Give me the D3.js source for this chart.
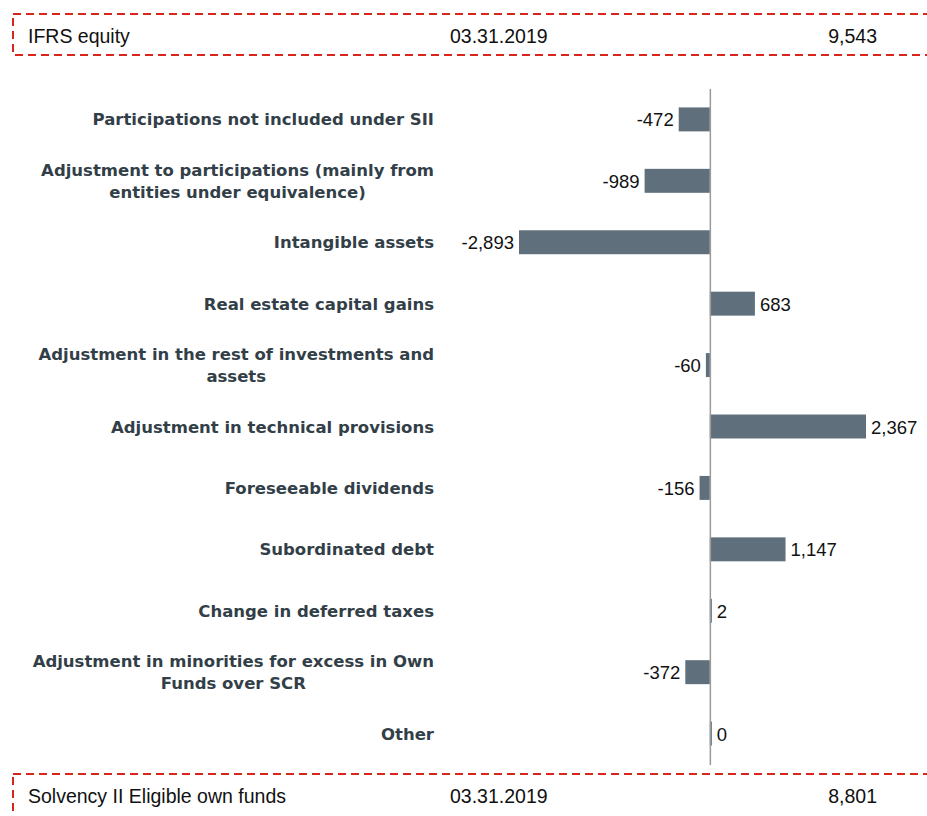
<!DOCTYPE html>
<html>
<head>
<meta charset="utf-8">
<script src="https://cdn.jsdelivr.net/npm/d3@7"></script>
<style>
  body { margin: 0; background: #fff; }
  svg { display: block; }
</style>
</head>
<body>
<div id="chart"></div>
<script>
// categories (each entry is the lines of one label)
var categories = [
  ["Participations not included under SII"],
  ["Adjustment to participations (mainly from", "entities under equivalence)"],
  ["Intangible assets"],
  ["Real estate capital gains"],
  ["Adjustment in the rest of investments and", "assets"],
  ["Adjustment in technical provisions"],
  ["Foreseeable dividends"],
  ["Subordinated debt"],
  ["Change in deferred taxes"],
  ["Adjustment in minorities for excess in Own", "Funds over SCR"],
  ["Other"]
];
var values = [-472, -989, -2893, 683, -60, 2367, -156, 1147, 2, -372, 0];

// header / footer rows
var startRow = ["IFRS equity", "03.31.2019", 9543];
var endRow = ["Solvency II Eligible own funds", "03.31.2019", 8801];

var width = 927, height = 816;
var fmt = d3.formatLocale({decimal: ".", thousands: ",", grouping: [3], currency: ["", ""], minus: "-"}).format(",");

var svg = d3.select("#chart").append("svg")
    .attr("width", width)
    .attr("height", height);

// scales
var x = d3.scaleLinear().domain([-2893, 2367]).range([519, 866]);
var y = d3.scaleBand().domain(d3.range(categories.length))
    .range([89, 764]).paddingInner(0.61).paddingOuter(0.3);

// dashed boxes
function drawBox(top, h, row){
  var g = svg.append("g");
  g.append("rect")
    .attr("x", 13).attr("y", top)
    .attr("width", 940).attr("height", h)
    .attr("fill", "none")
    .attr("stroke", "#d9261c")
    .attr("stroke-width", 2)
    .attr("stroke-dasharray", "8,5");
  var ty = top + 29;
  var t = g.append("g").attr("font-family", "'Liberation Sans', sans-serif")
    .attr("font-size", 19.5).attr("fill", "#111");
  t.append("text").attr("x", 28).attr("y", ty).text(row[0]);
  t.append("text").attr("x", 450).attr("y", ty).text(row[1]);
  t.append("text").attr("x", 877).attr("y", ty).attr("text-anchor", "end").text(fmt(row[2]));
}
drawBox(14, 41, startRow);
drawBox(774, 60, endRow);

// bars
svg.append("g").selectAll("rect")
  .data(values)
  .enter().append("rect")
  .attr("x", function(d){ return x(Math.min(0, d)); })
  .attr("y", function(d, i){ return y(i); })
  .attr("width", function(d){ return Math.max(2, Math.abs(x(d) - x(0))); })
  .attr("height", y.bandwidth())
  .attr("fill", "#5f6f7c");

// zero axis
svg.append("line")
  .attr("x1", x(0) + 0.5).attr("x2", x(0) + 0.5)
  .attr("y1", 89).attr("y2", 765)
  .attr("stroke", "#9a9a9a").attr("stroke-width", 1.5);

// value labels
svg.append("g").selectAll("text")
  .data(values)
  .enter().append("text")
  .attr("x", function(d){ return d < 0 ? x(d) - 5 : x(0) + Math.max(2, x(d) - x(0)) + 5; })
  .attr("y", function(d, i){ return y(i) + y.bandwidth() / 2 + 7; })
  .attr("text-anchor", function(d){ return d < 0 ? "end" : "start"; })
  .attr("font-family", "'Liberation Sans', sans-serif")
  .attr("font-size", 18.5)
  .attr("fill", "#111")
  .text(function(d){ return fmt(d); });

// category labels
var labels = svg.append("g").selectAll("text")
  .data(categories)
  .enter().append("text")
  .attr("text-anchor", "end")
  .attr("font-family", "'DejaVu Sans', sans-serif")
  .attr("font-weight", "bold")
  .attr("font-size", 16.5)
  .attr("fill", "#333f48")
  .attr("y", function(d, i){
    var c = y(i) + y.bandwidth() / 2 + 6;
    return c - (d.length - 1) * 11;
  });

labels.selectAll("tspan")
  .data(function(d){ return d; })
  .enter().append("tspan")
  .attr("x", 434)
  .attr("dy", function(d, j){ return j === 0 ? 0 : 22; })
  .text(function(d){ return d; });

// centre wrapped lines against their block, like the reference
labels.each(function(){
  var tspans = d3.select(this).selectAll("tspan").nodes();
  if (tspans.length < 2) return;
  var widths = tspans.map(function(n){ return n.getComputedTextLength(); });
  var maxW = d3.max(widths);
  var centre = 434 - maxW / 2;
  tspans.forEach(function(n, j){
    d3.select(n).attr("x", centre + widths[j] / 2);
  });
});
</script>
</body>
</html>
